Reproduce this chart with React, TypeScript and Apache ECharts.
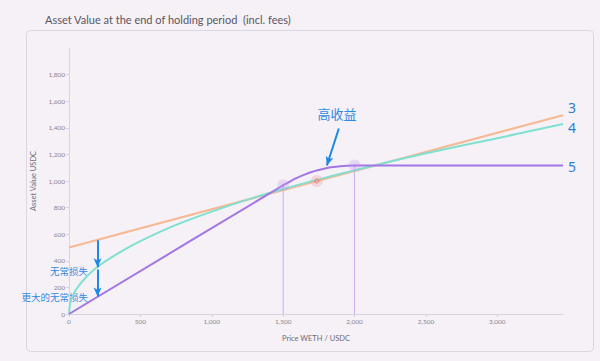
import React, { useEffect, useRef } from "react";
import * as echarts from "echarts";

// ---- data ----
const xTicks = [0, 500, 1000, 1500, 2000, 2500, 3000];
const yTicks = [0, 200, 400, 600, 800, 1000, 1200, 1400, 1600, 1800];

// series 3: hold (orange)
const holdPrice = [0, 3460];
const holdValue = [500, 1495];

// series 4: full-range LP (teal)
const lpPrice = [0, 10, 25, 50, 100, 200, 350, 500, 750, 1000, 1250, 1500, 1750, 2000, 2500, 3000, 3460];
const lpValue = [0, 90, 135, 184, 254, 355, 460, 548, 670, 770, 860, 940, 1012, 1080, 1208, 1322, 1428];

// series 5: concentrated LP 1500-2000 (purple)
const clPrice = [0, 1500, 1550, 1600, 1650, 1700, 1750, 1800, 1850, 1900, 1950, 2000, 3460];
const clValue = [0, 968, 998, 1025, 1048, 1068, 1083, 1096, 1105, 1111, 1115, 1117, 1117];

// highlighted points
const rangeEdges = [1500, 2000];
const rangeEdgeValues = [968, 1117];
const startPoint = [1736, 1000];

// annotations
const seriesTags = ["3", "4", "5"];
const lossArrowPrice = 200;
const lossArrow1 = [555, 352];
const lossArrow2 = [335, 132];
const gainArrow = [[1890, 1395], [1806, 1117]];

const zip = (a: number[], b: number[]) => a.map((v, i) => [v, b[i]]);

export default function App() {
  const ref = useRef<HTMLDivElement>(null);
  useEffect(() => {
    if (!ref.current) return;
    const chart = echarts.init(ref.current, null, { renderer: "svg" });
    const blue = "#1e88e5";
    const tickColor = "#8a8590";
    const axisColor = "#d9d3df";
    const option: any = {
      animation: false,
      backgroundColor: "#f5f1f7",
      textStyle: { fontFamily: "Lato, 'Noto Sans', sans-serif" },
      grid: { left: 69, right: 37, top: 48, bottom: 47 },
      xAxis: {
        type: "value",
        min: 0,
        max: 3460,
        interval: 500,
        name: "Price WETH / USDC",
        nameLocation: "middle",
        nameGap: 20,
        nameTextStyle: { fontSize: 7.5, color: "#6f6a75" },
        axisLine: { show: true, lineStyle: { color: axisColor } },
        axisTick: { show: true, length: 3, lineStyle: { color: axisColor } },
        axisLabel: {
          fontSize: 6.5,
          color: tickColor,
          margin: 4,
          showMaxLabel: false,
          formatter: (v: number) => (xTicks.includes(v) ? v.toLocaleString("en-US") : ""),
        },
        splitLine: { show: false },
      },
      yAxis: {
        type: "value",
        min: 0,
        max: 2000,
        interval: 200,
        name: "Asset Value USDC",
        nameLocation: "middle",
        nameGap: 30,
        nameTextStyle: { fontSize: 7.5, color: "#6f6a75" },
        axisLine: { show: true, lineStyle: { color: axisColor } },
        axisTick: { show: true, length: 3, lineStyle: { color: axisColor } },
        axisLabel: {
          fontSize: 6.5,
          color: tickColor,
          margin: 4,
          showMaxLabel: false,
          formatter: (v: number) => (yTicks.includes(v) ? v.toLocaleString("en-US") : ""),
        },
        splitLine: { show: false },
      },
      series: [
        {
          type: "line",
          data: zip(holdPrice, holdValue),
          showSymbol: false,
          lineStyle: { color: "#f7b894", width: 2 },
          z: 2,
        },
        {
          type: "line",
          data: zip(lpPrice, lpValue),
          smooth: 0.3,
          showSymbol: false,
          lineStyle: { color: "#80e0d0", width: 2 },
          z: 3,
        },
        {
          type: "line",
          data: zip(clPrice, clValue),
          smooth: 0.3,
          showSymbol: false,
          lineStyle: { color: "#a276e4", width: 2 },
          z: 4,
        },
        // vertical guides at range edges
        ...rangeEdges.map((p, i) => ({
          type: "line",
          data: [[p, 0], [p, rangeEdgeValues[i]]],
          showSymbol: false,
          lineStyle: { color: "#caaeec", width: 1 },
          z: 1,
        })),
        // halos
        {
          type: "scatter",
          data: zip(rangeEdges, rangeEdgeValues),
          symbolSize: 12,
          itemStyle: { color: "rgba(190,150,235,0.35)" },
          z: 5,
        },
        {
          type: "scatter",
          data: zip(rangeEdges, rangeEdgeValues),
          symbolSize: 3,
          itemStyle: { color: "#b28be8" },
          z: 6,
        },
        {
          type: "scatter",
          data: [startPoint],
          symbolSize: 12,
          itemStyle: { color: "rgba(245,160,160,0.45)" },
          z: 5,
        },
        {
          type: "scatter",
          data: [startPoint],
          symbolSize: 4,
          itemStyle: { color: "rgba(0,0,0,0)", borderColor: "#e06a6a", borderWidth: 1 },
          z: 6,
        },
        // annotation arrows
        {
          type: "line",
          data: [],
          z: 8,
          markLine: {
            silent: true,
            symbol: ["none", "arrow"],
            symbolSize: [6, 9],
            label: { show: false },
            lineStyle: { color: blue, width: 2, type: "solid" },
            data: [
              [{ coord: [lossArrowPrice, lossArrow1[0]] }, { coord: [lossArrowPrice, lossArrow1[1]] }],
              [{ coord: [lossArrowPrice, lossArrow2[0]] }, { coord: [lossArrowPrice, lossArrow2[1]] }],
              [{ coord: gainArrow[0] }, { coord: gainArrow[1] }],
            ],
          },
        },
      ],
      graphic: [
        {
          type: "rect",
          shape: { x: 26.5, y: 30.5, width: 567, height: 321, r: 4 },
          style: { fill: "none", stroke: "#dcd6e2", lineWidth: 1 },
          silent: true,
          z: -1,
        },
        {
          type: "text",
          x: 45,
          y: 19,
          style: {
            text: "Asset Value at the end of holding period  (incl. fees)",
            fontSize: 11,
            fill: "#5a5560",
            fontFamily: "Lato, sans-serif",
            verticalAlign: "middle",
          },
        },
        ...seriesTags.map((t, i) => ({
          type: "text",
          x: 572,
          y: [107, 127, 166][i],
          style: {
            text: t,
            fontSize: 14,
            fill: "#2a7fd8",
            fontFamily: "'Noto Sans', sans-serif",
            align: "center",
            verticalAlign: "middle",
          },
        })),
        {
          type: "text",
          x: 337,
          y: 113,
          style: {
            text: "高收益",
            fontSize: 13,
            fill: "#2f8ae0",
            fontFamily: "'Noto Sans CJK SC', sans-serif",
            align: "center",
            verticalAlign: "middle",
          },
        },
        {
          type: "text",
          x: 88,
          y: 271,
          style: {
            text: "无常损失",
            fontSize: 9.5,
            fill: "#2f8ae0",
            fontFamily: "'Noto Sans CJK SC', sans-serif",
            align: "right",
            verticalAlign: "middle",
          },
        },
        {
          type: "text",
          x: 88,
          y: 297,
          style: {
            text: "更大的无常损失",
            fontSize: 9.5,
            fill: "#2f8ae0",
            fontFamily: "'Noto Sans CJK SC', sans-serif",
            align: "right",
            verticalAlign: "middle",
          },
        },
      ],
    };
    chart.setOption(option);
    return () => chart.dispose();
  }, []);
  return (
    <div
      ref={ref}
      style={{ position: "fixed", left: 0, top: 0, width: 600, height: 361 }}
    />
  );
}
